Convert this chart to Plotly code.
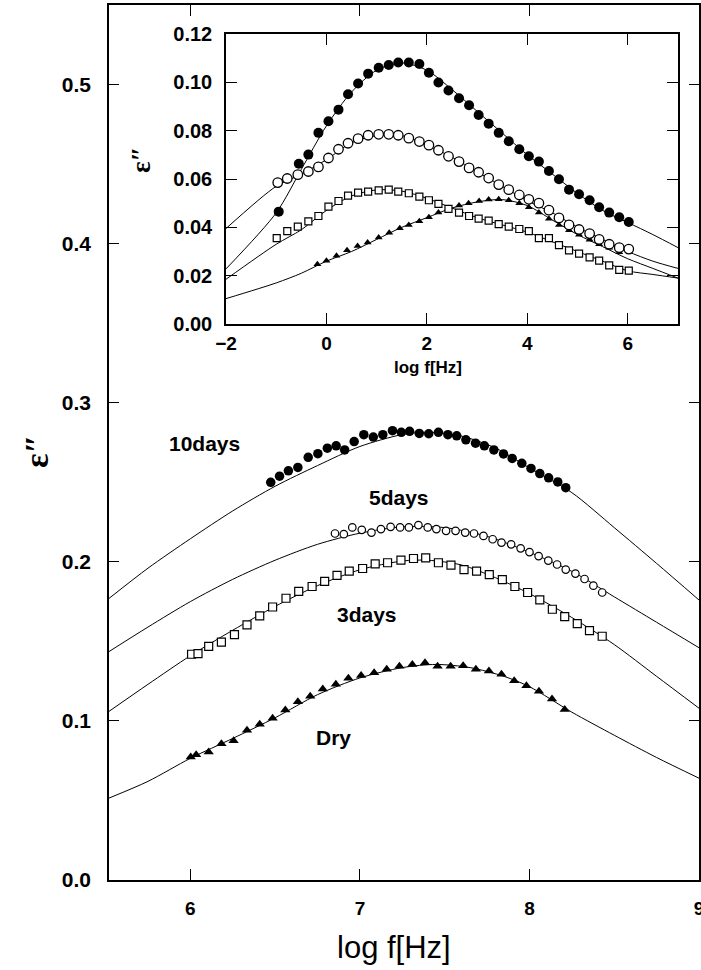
import plotly.graph_objects as go

# ---------------- main plot data ----------------
x_10d = [6.474, 6.526, 6.578, 6.634, 6.695, 6.752, 6.808, 6.860, 6.910, 6.966, 7.023, 7.079, 7.135,
         7.192, 7.244, 7.293, 7.350, 7.406, 7.463, 7.519, 7.571, 7.625, 7.682, 7.734, 7.790, 7.847,
         7.898, 7.955, 8.009, 8.061, 8.113, 8.167, 8.214]
y_10d = [0.2500, 0.2538, 0.2572, 0.2593, 0.2657, 0.2680, 0.2714, 0.2729, 0.2703, 0.2756, 0.2799, 0.2784,
         0.2799, 0.2824, 0.2814, 0.2820, 0.2807, 0.2805, 0.2814, 0.2799, 0.2792, 0.2767, 0.2746, 0.2729,
         0.2703, 0.2678, 0.2650, 0.2619, 0.2587, 0.2555, 0.2528, 0.2502, 0.2466]

x_5d = [6.853, 6.905, 6.955, 7.011, 7.068, 7.124, 7.181, 7.237, 7.289, 7.345, 7.400, 7.451, 7.508, 7.564,
        7.621, 7.673, 7.729, 7.783, 7.835, 7.892, 7.948, 8.000, 8.054, 8.111, 8.163, 8.214, 8.271, 8.325,
        8.377, 8.429]
y_5d = [0.2178, 0.2174, 0.2216, 0.2201, 0.2184, 0.2206, 0.2220, 0.2216, 0.2216, 0.2231, 0.2216, 0.2206,
        0.2195, 0.2195, 0.2184, 0.2178, 0.2163, 0.2142, 0.2121, 0.2110, 0.2085, 0.2061, 0.2036, 0.2008,
        0.1983, 0.1951, 0.1926, 0.1892, 0.1850, 0.1807]

x_3d = [6.007, 6.045, 6.108, 6.183, 6.260, 6.334, 6.409, 6.485, 6.564, 6.639, 6.718, 6.792, 6.865, 6.937,
        7.016, 7.090, 7.163, 7.242, 7.316, 7.388, 7.463, 7.537, 7.614, 7.688, 7.763, 7.840, 7.914, 7.989,
        8.061, 8.135, 8.208, 8.282, 8.354, 8.429]
y_3d = [0.1419, 0.1423, 0.1468, 0.1495, 0.1542, 0.1604, 0.1660, 0.1716, 0.1771, 0.1814, 0.1845, 0.1877,
        0.1915, 0.1941, 0.1958, 0.1987, 0.1994, 0.2011, 0.2021, 0.2025, 0.1994, 0.1979, 0.1951, 0.1941,
        0.1919, 0.1888, 0.1845, 0.1807, 0.1761, 0.1702, 0.1655, 0.1612, 0.1568, 0.1532]

x_dry = [6.002, 6.034, 6.108, 6.183, 6.255, 6.334, 6.409, 6.485, 6.560, 6.634, 6.707, 6.781, 6.858,
         6.932, 7.007, 7.084, 7.158, 7.233, 7.309, 7.384, 7.458, 7.535, 7.609, 7.684, 7.761, 7.835,
         7.910, 7.982, 8.056, 8.133, 8.208]
y_dry = [0.0773, 0.0788, 0.0804, 0.0856, 0.0876, 0.0942, 0.0979, 0.1016, 0.1068, 0.1120, 0.1155, 0.1200,
         0.1231, 0.1268, 0.1285, 0.1303, 0.1324, 0.1344, 0.1355, 0.1365, 0.1344, 0.1344, 0.1346, 0.1324,
         0.1313, 0.1293, 0.1252, 0.1221, 0.1186, 0.1138, 0.1072]

# fitted curves
fx_10d = [5.52, 5.75, 6.0, 6.25, 6.5, 6.75, 7.0, 7.25, 7.4, 7.6, 7.8, 8.0, 8.25, 8.5, 8.75, 9.0]
fy_10d = [0.177, 0.196, 0.2145, 0.232, 0.2475, 0.2605, 0.2725, 0.280, 0.2815, 0.279, 0.2715, 0.259,
          0.2435, 0.2215, 0.199, 0.176]
fx_5d = [5.52, 5.75, 6.0, 6.25, 6.5, 6.75, 7.0, 7.25, 7.5, 7.75, 8.0, 8.25, 8.5, 8.75, 9.0]
fy_5d = [0.1436, 0.159, 0.175, 0.189, 0.201, 0.211, 0.218, 0.222, 0.2215, 0.216, 0.206, 0.194, 0.178,
         0.162, 0.146]
fx_3d = [5.52, 5.75, 6.0, 6.25, 6.5, 6.75, 7.0, 7.25, 7.4, 7.6, 7.8, 8.0, 8.25, 8.5, 8.75, 9.0]
fy_3d = [0.106, 0.123, 0.141, 0.157, 0.172, 0.185, 0.195, 0.2005, 0.201, 0.198, 0.190, 0.180, 0.165,
         0.148, 0.128, 0.108]
fx_dry = [5.52, 5.75, 6.0, 6.25, 6.5, 6.75, 7.0, 7.25, 7.45, 7.65, 7.85, 8.0, 8.25, 8.5, 8.75, 9.0]
fy_dry = [0.0515, 0.062, 0.0765, 0.089, 0.102, 0.1165, 0.127, 0.1335, 0.1355, 0.1335, 0.128, 0.1215,
          0.1055, 0.091, 0.077, 0.064]

# ---------------- inset data ----------------
ix_10d = [-0.95, -0.55, -0.36, -0.16, 0.04, 0.24, 0.43, 0.63, 0.83, 1.04, 1.24, 1.43, 1.64, 1.85, 2.04,
          2.23, 2.43, 2.64, 2.84, 3.03, 3.23, 3.43, 3.63, 3.84, 4.03, 4.23, 4.43, 4.63, 4.83, 5.03, 5.24,
          5.43, 5.63, 5.83, 6.02]
iy_10d = [0.0465, 0.0663, 0.0701, 0.0791, 0.0839, 0.0887, 0.0951, 0.0995, 0.1036, 0.1060, 0.1072, 0.1082,
          0.1082, 0.1076, 0.1040, 0.0999, 0.0966, 0.0934, 0.0905, 0.0865, 0.0829, 0.0791, 0.0756, 0.0723,
          0.0694, 0.0672, 0.0633, 0.0599, 0.0556, 0.0537, 0.0512, 0.0483, 0.0461, 0.0442, 0.0422]

ix_5d = [-0.97, -0.78, -0.57, -0.36, -0.16, 0.04, 0.24, 0.43, 0.63, 0.83, 1.04, 1.24, 1.43, 1.64, 1.85,
         2.04, 2.23, 2.43, 2.64, 2.84, 3.03, 3.23, 3.43, 3.63, 3.84, 4.03, 4.23, 4.43, 4.63, 4.83, 5.03,
         5.24, 5.43, 5.63, 5.83, 6.02]
iy_5d = [0.0585, 0.0602, 0.0618, 0.0631, 0.0650, 0.0687, 0.0723, 0.0748, 0.0767, 0.0781, 0.0785, 0.0785,
         0.0781, 0.0769, 0.0755, 0.0740, 0.0719, 0.0694, 0.0672, 0.0646, 0.0628, 0.0604, 0.0577, 0.0556,
         0.0534, 0.0516, 0.0500, 0.0471, 0.0439, 0.0410, 0.0391, 0.0374, 0.0350, 0.0330, 0.0316, 0.0310]

ix_3d = [-0.99, -0.78, -0.57, -0.36, -0.16, 0.04, 0.24, 0.43, 0.63, 0.83, 1.04, 1.24, 1.43, 1.64, 1.85,
         2.04, 2.23, 2.43, 2.64, 2.84, 3.03, 3.23, 3.43, 3.63, 3.84, 4.03, 4.23, 4.43, 4.63, 4.83, 5.03,
         5.24, 5.43, 5.63, 5.83, 6.02]
iy_3d = [0.0355, 0.0384, 0.0403, 0.0425, 0.0447, 0.0486, 0.0509, 0.0531, 0.0544, 0.0548, 0.0553, 0.0556,
         0.0548, 0.0541, 0.0527, 0.0512, 0.0497, 0.0476, 0.0461, 0.0447, 0.0436, 0.0428, 0.0413, 0.0403,
         0.0393, 0.0384, 0.0355, 0.0355, 0.0326, 0.0305, 0.0291, 0.0276, 0.0262, 0.0243, 0.0224, 0.0221]

ix_dry = [-0.18, 0.0, 0.20, 0.41, 0.62, 0.82, 1.04, 1.25, 1.46, 1.64, 1.85, 2.04, 2.23, 2.43, 2.64, 2.83,
          3.04, 3.23, 3.43, 3.63, 3.84, 4.03, 4.23, 4.43, 4.63, 4.83, 5.03, 5.24, 5.43, 5.63, 5.83]
iy_dry = [0.0247, 0.0262, 0.0282, 0.0305, 0.0323, 0.0337, 0.0358, 0.0378, 0.0396, 0.0410, 0.0425, 0.0442,
          0.0461, 0.0479, 0.0490, 0.0500, 0.0509, 0.0515, 0.0516, 0.0512, 0.0500, 0.0483, 0.0461, 0.0436,
          0.0410, 0.0388, 0.0369, 0.0349, 0.0330, 0.0316, 0.0297]

ifx = [-2, -1, -0.5, 0, 0.5, 1, 1.5, 2, 2.5, 3, 3.5, 4, 4.5, 5, 5.5, 6, 6.5, 7]
ify_10d = [0.0228, 0.046, 0.064, 0.082, 0.096, 0.105, 0.108, 0.105, 0.097, 0.088, 0.079, 0.070, 0.062,
           0.054, 0.047, 0.042, 0.037, 0.0316]
ify_5d = [0.0395, 0.057, 0.062, 0.068, 0.075, 0.078, 0.078, 0.074, 0.069, 0.063, 0.057, 0.051, 0.046,
          0.040, 0.035, 0.030, 0.026, 0.023]
ify_3d = [0.0185, 0.033, 0.039, 0.047, 0.053, 0.0555, 0.055, 0.052, 0.048, 0.044, 0.041, 0.038, 0.034,
          0.030, 0.026, 0.022, 0.0205, 0.019]
ify_dry = [0.0105, 0.017, 0.021, 0.026, 0.030, 0.035, 0.040, 0.044, 0.048, 0.0505, 0.0515, 0.049, 0.043,
           0.037, 0.032, 0.027, 0.023, 0.019]

main_xticks = [6, 7, 8, 9]
main_yticks = [0.0, 0.1, 0.2, 0.3, 0.4, 0.5]
inset_xticks = [-2, 0, 2, 4, 6]
inset_yticks = [0.00, 0.02, 0.04, 0.06, 0.08, 0.10, 0.12]
labels = ["10days", "5days", "3days", "Dry"]

# ---------------- figure ----------------
W, H = 701, 970
L, R, T, B = 109, 2, 5, 90
PW, PH = W - L - R, H - T - B


def px(x, y):
    return (x - L) / PW, (H - B - y) / PH


FONT = "Liberation Sans, Arial, sans-serif"
fig = go.Figure()

line_style = dict(color="black", width=1, shape="spline", smoothing=0.8)
for fx, fy in [(fx_10d, fy_10d), (fx_5d, fy_5d), (fx_3d, fy_3d), (fx_dry, fy_dry)]:
    fig.add_trace(go.Scatter(x=fx, y=fy, mode="lines", line=line_style, showlegend=False,
                             xaxis="x", yaxis="y"))

fig.add_trace(go.Scatter(x=x_dry, y=y_dry, mode="markers", showlegend=False,
                         marker=dict(symbol="triangle-up", size=9, color="black", line=dict(width=0))))
fig.add_trace(go.Scatter(x=x_3d, y=y_3d, mode="markers", showlegend=False,
                         marker=dict(symbol="square", size=8, color="white", line=dict(color="black", width=1.2))))
fig.add_trace(go.Scatter(x=x_5d, y=y_5d, mode="markers", showlegend=False,
                         marker=dict(symbol="circle", size=7.5, color="white", line=dict(color="black", width=1.2))))
fig.add_trace(go.Scatter(x=x_10d, y=y_10d, mode="markers", showlegend=False,
                         marker=dict(symbol="circle", size=9.5, color="black", line=dict(width=0))))

# inset traces
for fy in [ify_10d, ify_5d, ify_3d, ify_dry]:
    fig.add_trace(go.Scatter(x=ifx, y=fy, mode="lines", line=line_style, showlegend=False,
                             xaxis="x2", yaxis="y2"))
fig.add_trace(go.Scatter(x=ix_dry, y=iy_dry, mode="markers", showlegend=False, xaxis="x2", yaxis="y2",
                         marker=dict(symbol="triangle-up", size=7, color="black", line=dict(width=0))))
fig.add_trace(go.Scatter(x=ix_3d, y=iy_3d, mode="markers", showlegend=False, xaxis="x2", yaxis="y2",
                         marker=dict(symbol="square", size=7, color="white", line=dict(color="black", width=1.2))))
fig.add_trace(go.Scatter(x=ix_5d, y=iy_5d, mode="markers", showlegend=False, xaxis="x2", yaxis="y2",
                         marker=dict(symbol="circle", size=9.5, color="white", line=dict(color="black", width=1.3))))
fig.add_trace(go.Scatter(x=ix_10d, y=iy_10d, mode="markers", showlegend=False, xaxis="x2", yaxis="y2",
                         marker=dict(symbol="circle", size=10, color="black", line=dict(width=0))))

ax_common = dict(showline=True, linecolor="black", linewidth=1.5, mirror="ticks", ticks="inside",
                 tickcolor="black", tickwidth=1.2, showgrid=False, zeroline=False, automargin=False,
                 ticklabeloverflow="allow")

ix0, iy1 = px(226, 34)
ix1, iy0 = px(678, 324)

fig.update_layout(
    width=W, height=H,
    margin=dict(l=L, r=R, t=T, b=B, pad=0),
    paper_bgcolor="white", plot_bgcolor="white",
    font=dict(family=FONT, color="black"),
    xaxis=dict(range=[5.52, 9.0], tickvals=main_xticks, ticklen=11, ticklabelstandoff=10,
               tickfont=dict(family=FONT, size=19, weight="bold"), **ax_common),
    yaxis=dict(range=[0, 0.55], tickvals=main_yticks, tickformat=".1f", ticklen=10, ticklabelstandoff=12,
               tickfont=dict(family=FONT, size=21, weight="bold"), **ax_common),
    xaxis2=dict(domain=[ix0, ix1], anchor="y2", range=[-2, 7], tickvals=inset_xticks, ticklen=11,
                ticklabelstandoff=1, tickfont=dict(family=FONT, size=19, weight="bold"), **ax_common),
    yaxis2=dict(domain=[iy0, iy1], anchor="x2", range=[0, 0.12], tickvals=inset_yticks, tickformat=".2f",
                ticklen=11, ticklabelstandoff=8, tickfont=dict(family=FONT, size=20, weight="bold"), **ax_common),
)

# text labels
ann = []
for text, (x, y) in zip(labels, [(204, 443), (399, 497), (367, 614), (333, 737)]):
    ax_, ay_ = px(x, y)
    ann.append(dict(text=text, x=ax_, y=ay_, xref="paper", yref="paper", showarrow=False,
                    xanchor="center", yanchor="middle",
                    font=dict(family=FONT, size=21, weight="bold")))

tx, ty = px(394, 948)
ann.append(dict(text="log f[Hz]", x=tx, y=ty, xref="paper", yref="paper", showarrow=False,
                xanchor="center", yanchor="middle", font=dict(family=FONT, size=31)))
tx, ty = px(428, 367)
ann.append(dict(text="log f[Hz]", x=tx, y=ty, xref="paper", yref="paper", showarrow=False,
                xanchor="center", yanchor="middle", font=dict(family=FONT, size=17, weight="bold")))
tx, ty = px(36, 452)
ann.append(dict(text="ε″", x=tx, y=ty, xref="paper", yref="paper", showarrow=False, textangle=-90,
                xanchor="center", yanchor="middle",
                font=dict(family="Liberation Serif, serif", size=34, weight="bold")))
tx, ty = px(141, 160)
ann.append(dict(text="ε″", x=tx, y=ty, xref="paper", yref="paper", showarrow=False, textangle=-90,
                xanchor="center", yanchor="middle",
                font=dict(family="Liberation Serif, serif", size=27, weight="bold")))
fig.update_layout(annotations=ann)

fig.write_html("out.html")
